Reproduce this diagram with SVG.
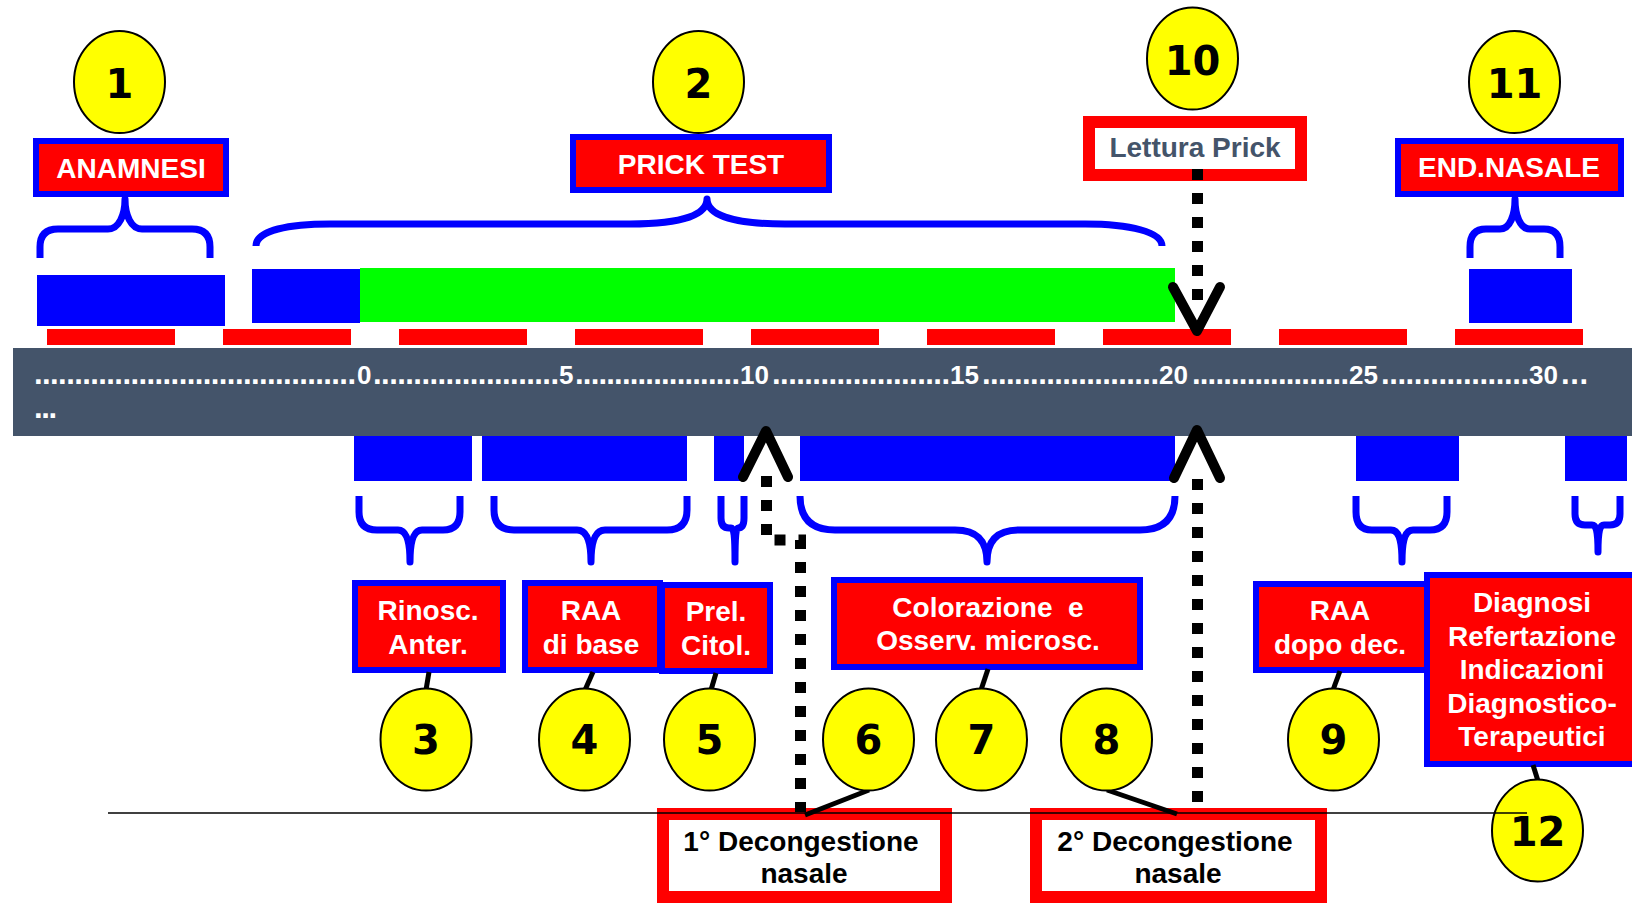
<svg xmlns="http://www.w3.org/2000/svg" width="1632" height="906" viewBox="0 0 1632 906">
<style>
.lbl{font-family:"Liberation Sans",Arial,sans-serif;font-weight:bold;font-size:28px;fill:#fff;text-anchor:middle}
.dk{fill:#000}
.sl{fill:#44546a}
.ax{font-family:"Liberation Sans",Arial,sans-serif;font-weight:bold;font-size:26px;fill:#fff}
.axd{font-family:"Liberation Sans",Arial,sans-serif;font-weight:bold;font-size:31px;fill:#fff}
.num{font-family:"DejaVu Sans",sans-serif;font-weight:bold;font-size:40px;fill:#000;text-anchor:middle}
.badge{fill:#ffff00;stroke:#000;stroke-width:2}
.bbox{fill:#ff0000;stroke:#0000ff;stroke-width:6}
.wbox{fill:#fff;stroke:#ff0000;stroke-width:12}
.brace{fill:none;stroke:#0000ff;stroke-width:7;stroke-linejoin:round;stroke-linecap:butt}
.blue{fill:#0000ff}
.red{fill:#ff0000}
.conn{stroke:#000;stroke-width:5;fill:none}
.dot{stroke:#000;stroke-width:11;fill:none;stroke-dasharray:11 13}
.head{stroke:#000;stroke-width:10;fill:none;stroke-linecap:round;stroke-linejoin:round}
</style>

<g id="timeline">
  <rect x="13" y="348" width="1619" height="88" fill="#44546a"/>
  <rect class="red" x="47" y="329" width="128" height="16"/>
  <rect class="red" x="223" y="329" width="128" height="16"/>
  <rect class="red" x="399" y="329" width="128" height="16"/>
  <rect class="red" x="575" y="329" width="128" height="16"/>
  <rect class="red" x="751" y="329" width="128" height="16"/>
  <rect class="red" x="927" y="329" width="128" height="16"/>
  <rect class="red" x="1103" y="329" width="128" height="16"/>
  <rect class="red" x="1279" y="329" width="128" height="16"/>
  <rect class="red" x="1455" y="329" width="128" height="16"/>
  <g id="axis-labels">
    <text class="axd" x="34" y="384" textLength="322" lengthAdjust="spacing">........................................</text>
    <text class="ax" x="357" y="384">0</text>
    <text class="axd" x="373" y="384" textLength="186" lengthAdjust="spacing">.......................</text>
    <text class="ax" x="559" y="384">5</text>
    <text class="axd" x="575" y="384" textLength="165" lengthAdjust="spacing">.....................</text>
    <text class="ax" x="740" y="384">10</text>
    <text class="axd" x="772" y="384" textLength="178" lengthAdjust="spacing">......................</text>
    <text class="ax" x="950" y="384">15</text>
    <text class="axd" x="982" y="384" textLength="177" lengthAdjust="spacing">......................</text>
    <text class="ax" x="1159" y="384">20</text>
    <text class="axd" x="1192" y="384" textLength="157" lengthAdjust="spacing">....................</text>
    <text class="ax" x="1349" y="384">25</text>
    <text class="axd" x="1381" y="384" textLength="148" lengthAdjust="spacing">..................</text>
    <text class="ax" x="1529" y="384">30</text>
    <text class="axd" x="1561" y="384" textLength="27" lengthAdjust="spacing">...</text>
    <text class="axd" x="34" y="418" textLength="23" lengthAdjust="spacing">...</text>
  </g>
  <rect class="blue" x="37" y="275" width="188" height="51"/>
  <rect class="blue" x="252" y="269" width="108" height="54"/>
  <rect x="360" y="268" width="815" height="54" fill="#00ff00"/>
  <rect class="blue" x="1469" y="269" width="103" height="54"/>
  <rect class="blue" x="354" y="436" width="118" height="45"/>
  <rect class="blue" x="482" y="436" width="205" height="45"/>
  <rect class="blue" x="714" y="436" width="30" height="45"/>
  <rect class="blue" x="800" y="436" width="375" height="45"/>
  <rect class="blue" x="1356" y="436" width="103" height="45"/>
  <rect class="blue" x="1565" y="436" width="62" height="45"/>
</g>

<g id="braces">
  <path class="brace" d="M40,258 V247 Q40,229 58,229 H108 C119,229 125,215 125,199 C125,215 131,229 142,229 H192 Q210,229 210,247 V258"/>
  <path class="brace" d="M256,246 C256,230 290,224 330,224 H630 C685,224 707,214 707,199 C707,214 730,224 785,224 H1085 C1130,224 1162,232 1162,246"/>
  <path class="brace" d="M1470,258 V247 Q1470,229 1486,229 H1500 C1510,229 1515,215 1515,199 C1515,215 1520,229 1530,229 H1544 Q1560,229 1560,247 V258"/>
  <path class="brace" d="M359,496 V512 Q359,530 377,530 H398 C406,530 410,540 410,562 C410,540 414,530 422,530 H443 Q460,530 460,512 V496"/>
  <path class="brace" d="M494,496 V510 Q494,530 514,530 H577 C586,530 591,540 591,562 C591,540 596,530 605,530 H667 Q687,530 687,510 V496"/>
  <path class="brace" d="M721,496 V518 Q721,528 729,528 H731 C734,528 735,535 735,562 C735,535 736,528 738,528 Q744,528 744,518 V496"/>
  <path class="brace" d="M800,496 Q800,530 835,530 H955 C978,530 987,542 987,562 C987,542 996,530 1019,530 H1140 Q1175,530 1175,496"/>
  <path class="brace" d="M1356,496 V512 Q1356,530 1372,530 H1391 C1398,530 1402,538 1402,562 C1402,538 1406,530 1413,530 H1430 Q1447,530 1447,512 V496"/>
  <path class="brace" d="M1575,496 V514 Q1575,525 1585,525 H1592 C1596,525 1598,530 1598,552 C1598,530 1600,525 1604,525 H1610 Q1620,525 1620,514 V496"/>
</g>

<g id="box-anamnesi"><rect class="bbox" x="36" y="141" width="190" height="53"/><text class="lbl" x="131" y="178">ANAMNESI</text></g>
<g id="box-prick"><rect class="bbox" x="573" y="137" width="256" height="53"/><text class="lbl" x="701" y="174">PRICK TEST</text></g>
<g id="box-lettura"><rect class="wbox" x="1089" y="122" width="212" height="53"/><text class="lbl sl" x="1195" y="157">Lettura Prick</text></g>
<g id="box-endnasale"><rect class="bbox" x="1398" y="141" width="223" height="53"/><text class="lbl" x="1509" y="177">END.NASALE</text></g>

<g id="box-rinosc"><rect class="bbox" x="355" y="583" width="148" height="87"/><text class="lbl" x="428" y="620">Rinosc.</text><text class="lbl" x="428" y="654">Anter.</text></g>
<g id="box-raa"><rect class="bbox" x="525" y="583" width="135" height="87"/><text class="lbl" x="591" y="620">RAA</text><text class="lbl" x="591" y="654">di base</text></g>
<g id="box-prel"><rect class="bbox" x="662" y="585" width="108" height="86"/><text class="lbl" x="716" y="621">Prel.</text><text class="lbl" x="716" y="655">Citol.</text></g>
<g id="box-colorazione"><rect class="bbox" x="834" y="580" width="306" height="87"/><text class="lbl" x="988" y="617" xml:space="preserve">Colorazione  e</text><text class="lbl" x="988" y="650">Osserv. microsc.</text></g>
<g id="box-raa-dopo"><rect class="bbox" x="1256" y="584" width="172" height="86"/><text class="lbl" x="1340" y="620">RAA</text><text class="lbl" x="1340" y="654">dopo dec.</text></g>
<g id="box-diagnosi"><rect class="bbox" x="1427" y="575" width="230" height="189"/>
  <text class="lbl" x="1532" y="612">Diagnosi</text>
  <text class="lbl" x="1532" y="646">Refertazione</text>
  <text class="lbl" x="1532" y="679">Indicazioni</text>
  <text class="lbl" x="1532" y="713">Diagnostico-</text>
  <text class="lbl" x="1532" y="746">Terapeutici</text>
</g>
<g id="box-dec1"><rect class="wbox" x="663" y="814" width="283" height="83"/><text class="lbl dk" x="801" y="851">1° Decongestione</text><text class="lbl dk" x="804" y="883">nasale</text></g>
<g id="box-dec2"><rect class="wbox" x="1036" y="814" width="285" height="83"/><text class="lbl dk" x="1175" y="851">2° Decongestione</text><text class="lbl dk" x="1178" y="883">nasale</text></g>

<g id="connectors">
  <line class="conn" x1="429" y1="672" x2="426" y2="690"/>
  <line class="conn" x1="593" y1="672" x2="585" y2="690"/>
  <line class="conn" x1="716" y1="673" x2="711" y2="690"/>
  <line class="conn" x1="988" y1="669" x2="981" y2="690"/>
  <line class="conn" x1="1340" y1="671" x2="1333" y2="690"/>
  <line class="conn" x1="1533" y1="765" x2="1538" y2="781"/>
  <line class="conn" x1="869" y1="790" x2="805" y2="815"/>
  <line class="conn" x1="1107" y1="790" x2="1177" y2="814"/>
  <path class="dot" d="M1197.5,169 V302"/>
  <path class="head" d="M1173,287 L1197,331 L1220,287"/>
  <path class="dot" d="M766.5,476 V540 H800.5 V812"/>
  <path class="head" d="M743,477 L766,431 L788,477"/>
  <path class="dot" d="M1197.5,479 V802"/>
  <path class="head" d="M1174,478 L1197,430 L1220,478"/>
</g>

<g id="badge-1"><ellipse class="badge" cx="119.5" cy="82" rx="45.5" ry="51"/><text class="num" x="119.5" y="98">1</text></g>
<g id="badge-2"><ellipse class="badge" cx="698.5" cy="82" rx="45.5" ry="51"/><text class="num" x="698.5" y="98">2</text></g>
<g id="badge-10"><ellipse class="badge" cx="1192.5" cy="58.5" rx="45.5" ry="51"/><text class="num" x="1192.5" y="75">10</text></g>
<g id="badge-11"><ellipse class="badge" cx="1514.5" cy="82" rx="45.5" ry="51"/><text class="num" x="1514.5" y="98">11</text></g>
<g id="badge-3"><ellipse class="badge" cx="426" cy="739.5" rx="45.5" ry="51"/><text class="num" x="426" y="754">3</text></g>
<g id="badge-4"><ellipse class="badge" cx="584.5" cy="739.5" rx="45.5" ry="51"/><text class="num" x="584.5" y="754">4</text></g>
<g id="badge-5"><ellipse class="badge" cx="709.5" cy="739.5" rx="45.5" ry="51"/><text class="num" x="709.5" y="754">5</text></g>
<g id="badge-6"><ellipse class="badge" cx="868.5" cy="739.5" rx="45.5" ry="51"/><text class="num" x="868.5" y="754">6</text></g>
<g id="badge-7"><ellipse class="badge" cx="981.5" cy="739.5" rx="45.5" ry="51"/><text class="num" x="981.5" y="754">7</text></g>
<g id="badge-8"><ellipse class="badge" cx="1106.5" cy="739.5" rx="45.5" ry="51"/><text class="num" x="1106.5" y="754">8</text></g>
<g id="badge-9"><ellipse class="badge" cx="1333.5" cy="739.5" rx="45.5" ry="51"/><text class="num" x="1333.5" y="754">9</text></g>
<g id="badge-12"><ellipse class="badge" cx="1537.5" cy="830.5" rx="45.5" ry="51"/><text class="num" x="1537.5" y="846">12</text></g>

<line x1="108" y1="813" x2="1527" y2="813" stroke="#000" stroke-width="1.5"/>
</svg>
